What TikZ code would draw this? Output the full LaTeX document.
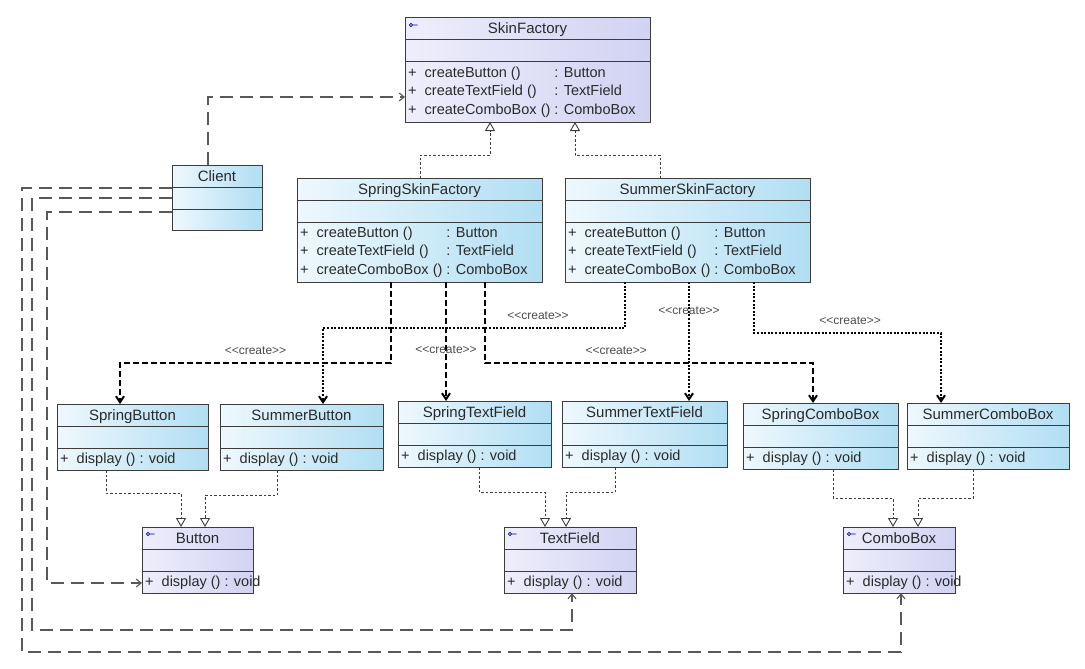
\documentclass[tikz,border=0pt]{standalone}
\usepackage{fontspec}
\setmainfont{Liberation Sans}
\usetikzlibrary{arrows.meta,calc}

\definecolor{umlblueL}{HTML}{EEF8FD}
\definecolor{umlblueR}{HTML}{B1DEF3}
\definecolor{umllavL}{HTML}{EEEEFB}
\definecolor{umllavR}{HTML}{D2D2F3}
\definecolor{umlline}{HTML}{3C3C3C}
\definecolor{umltext}{HTML}{2A2A2A}

\tikzset{
    blueclass/.style={draw=umlline, line width=1pt, left color=umlblueL, right color=umlblueR, inner sep=0pt, outer sep=0pt},
    lavclass/.style={draw=umlline, line width=1pt, left color=umllavL, right color=umllavR, inner sep=0pt, outer sep=0pt},
    sepline/.style={draw=umlline, line width=1pt},
    titletext/.style={text=umltext, inner sep=0pt, font=\fontsize{15}{18}\selectfont},
    methodtext/.style={text=umltext, inner sep=0pt, align=left, font=\fontsize{14.5}{18.5}\selectfont},
    realize/.style={draw=umlline, line width=0.9pt, dash pattern=on 2.5pt off 2pt, -{Triangle[open,length=9pt,width=10pt]}},
    springcreate/.style={draw=black, line width=2pt, dash pattern=on 6pt off 3pt, -{Straight Barb[length=6pt,width=8pt]}},
    summercreate/.style={draw=black, line width=2pt, dash pattern=on 2pt off 1.6pt, -{Straight Barb[length=6pt,width=8pt]}},
    uses/.style={draw=umlline!85, line width=1.1pt, dash pattern=on 13pt off 7pt, -{Straight Barb[length=5pt,width=8pt]}},
    createlabel/.style={text=black!70, inner sep=0pt, font=\fontsize{12}{14}\selectfont}
}

\newcommand{\create}{<{}<create>{}>}

% [style]{name}{x,y}{width}{height}{title}{method rows}
\newcommand{\umlclass}[7][blueclass]{%
    \node[#1, minimum width=#4pt, minimum height=#5pt, anchor=north west] (#2) at (#3) {};
    \draw[sepline] ($(#2.north west)+(0,22)$) -- ++(#4,0);
    \draw[sepline] ($(#2.north west)+(0,44)$) -- ++(#4,0);
    \node[titletext, anchor=base] at ($(#2.north)+(0,16)$) {#6};
    \node[methodtext, anchor=north west] at ($(#2.north west)+(3,46)$)
        {\begin{tabular}{@{}l@{\ \ }l@{\ }l@{}}#7\end{tabular}};
}
\newcommand{\umlkey}[1]{%
    \draw[blue!70!black, line width=0.7pt] ($(#1.north west)+(6,7)$) circle (1.6pt)
        ($(#1.north west)+(7.6,7)$) -- ++(5,0);
}

\begin{document}
\begin{tikzpicture}[x=1pt,y=-1pt]
    \useasboundingbox[fill=white] (0,0) rectangle (1085,669);

    % factories
    \umlclass[lavclass]{sf}{405,18}{245}{104}{SkinFactory}{%
        + & createButton () & : Button\\
        + & createTextField () & : TextField\\
        + & createComboBox () & : ComboBox}
    \umlkey{sf}

    \umlclass{cl}{172,165}{90}{65}{Client}{}

    \umlclass{sprF}{297,178}{245}{104}{SpringSkinFactory}{%
        + & createButton () & : Button\\
        + & createTextField () & : TextField\\
        + & createComboBox () & : ComboBox}

    \umlclass{sumF}{565,178}{245}{104}{SummerSkinFactory}{%
        + & createButton () & : Button\\
        + & createTextField () & : TextField\\
        + & createComboBox () & : ComboBox}

    % products
    \umlclass{sprB}{57,404}{151}{66}{SpringButton}{+ & display () & : void}
    \umlclass{sumB}{220,404}{163}{66}{SummerButton}{+ & display () & : void}
    \umlclass{sprT}{398,401}{153}{66}{SpringTextField}{+ & display () & : void}
    \umlclass{sumT}{562,401}{165}{66}{SummerTextField}{+ & display () & : void}
    \umlclass{sprC}{743,403}{155}{66}{SpringComboBox}{+ & display () & : void}
    \umlclass{sumC}{907,403}{162}{66}{SummerComboBox}{+ & display () & : void}

    \umlclass[lavclass]{btn}{142,527}{111}{66}{Button}{+ & display () & : void}
    \umlkey{btn}
    \umlclass[lavclass]{tf}{504,527}{132}{66}{TextField}{+ & display () & : void}
    \umlkey{tf}
    \umlclass[lavclass]{cb}{843,527}{112}{66}{ComboBox}{+ & display () & : void}
    \umlkey{cb}

    % inheritance
    \draw[realize] ($(sprF.north west)+(123,0)$) -- ++(0,-23) -| ($(sf.south west)+(85,0)$);
    \draw[realize] ($(sumF.north west)+(95,0)$) -- ++(0,-23) -| ($(sf.south west)+(170,0)$);

    \draw[realize] ($(sprB.south west)+(49,0)$) -- ++(0,23) -| ($(btn.north west)+(39,0)$);
    \draw[realize] ($(sumB.south west)+(57,0)$) -- ++(0,25) -| ($(btn.north west)+(63,0)$);
    \draw[realize] ($(sprT.south west)+(81,0)$) -- ++(0,25) -| ($(tf.north west)+(41,0)$);
    \draw[realize] ($(sumT.south west)+(53,0)$) -- ++(0,25) -| ($(tf.north west)+(62,0)$);
    \draw[realize] ($(sprC.south west)+(90,0)$) -- ++(0,29) -| ($(cb.north west)+(50,0)$);
    \draw[realize] ($(sumC.south west)+(66,0)$) -- ++(0,29) -| ($(cb.north west)+(75,0)$);

    % create
    \draw[springcreate] ($(sprF.south west)+(94,0)$) -- ++(0,81)
        -| node[createlabel, pos=0.25, above=7pt] {\create} ($(sprB.north west)+(63,0)$);
    \draw[springcreate] ($(sprF.south west)+(149,0)$)
        -- node[createlabel, pos=0.57] {\create} ($(sprT.north west)+(48,0)$);
    \draw[springcreate] ($(sprF.south west)+(188,0)$) -- ++(0,81)
        -| node[createlabel, pos=0.2, above=7pt] {\create} ($(sprC.north west)+(70,0)$);

    \draw[summercreate] ($(sumF.south west)+(60,0)$) -- ++(0,46)
        -| node[createlabel, pos=0.144, above=7pt] {\create} ($(sumB.north west)+(103,0)$);
    \draw[summercreate] ($(sumF.south west)+(124,0)$)
        -- node[createlabel, pos=0.24] {\create} ($(sumT.north west)+(127,0)$);
    \draw[summercreate] ($(sumF.south west)+(189,0)$) -- ++(0,51)
        -| node[createlabel, pos=0.257, above=7pt] {\create} ($(sumC.north west)+(34,0)$);

    % client
    \draw[uses] ($(cl.north west)+(36,0)$) |- ($(sf.north west)+(0,79)$);
    \draw[uses] ($(cl.north west)+(0,47)$) -- ++(-125,0) |- ($(btn.north west)+(0,56)$);
    \draw[uses] ($(cl.north west)+(0,33)$) -- ++(-140,0) -- ++(0,432) -| ($(tf.south west)+(68,0)$);
    \draw[uses] ($(cl.north west)+(0,23)$) -- ++(-150,0) -- ++(0,464) -| ($(cb.south west)+(58,0)$);
\end{tikzpicture}
\end{document}
